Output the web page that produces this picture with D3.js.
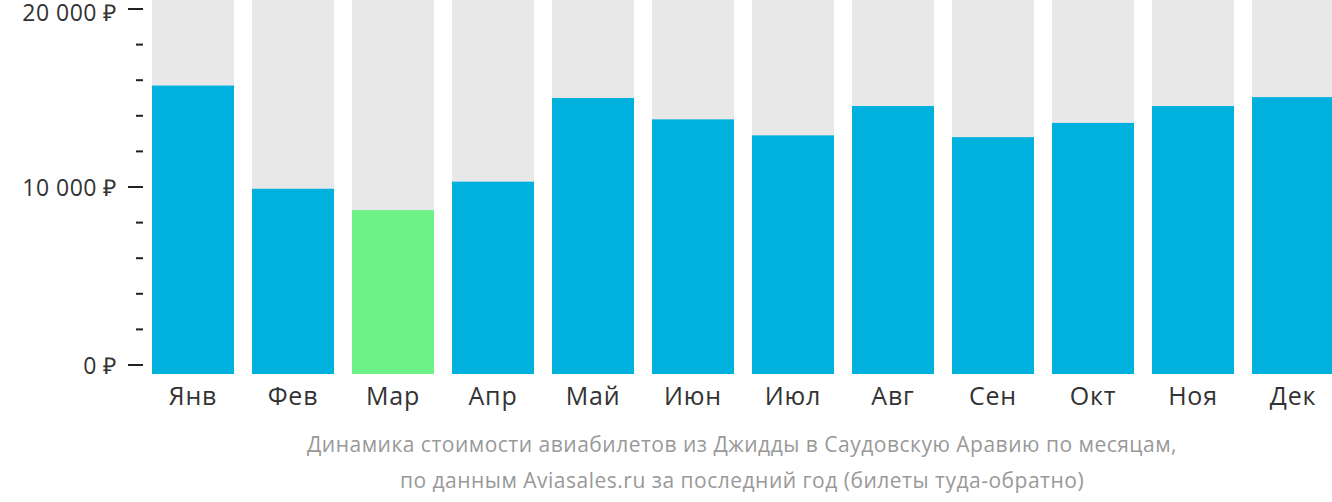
<!DOCTYPE html>
<html><head><meta charset="utf-8">
<script src="https://cdn.jsdelivr.net/npm/d3@7"></script>
<style>
body{margin:0;background:#fff;}
svg{display:block;font-family:"Open Sans",sans-serif;}
</style></head>
<body><svg id="c" width="1332" height="502"></svg>
<script>
const months = ["Янв","Фев","Мар","Апр","Май","Июн","Июл","Авг","Сен","Окт","Ноя","Дек"];
const prices = [15700, 9900, 8700, 10300, 15000, 13800, 12900, 14550, 12800, 13600, 14550, 15050];
const minIndex = 2;
const majorTicks = [0, 10000, 20000];
const minorTicks = [2000, 4000, 6000, 8000, 12000, 14000, 16000, 18000];
const subtitle = ["Динамика стоимости авиабилетов из Джидды в Саудовскую Аравию по месяцам,",
                  "по данным Aviasales.ru за последний год (билеты туда-обратно)"];

const svg = d3.select("#c");
const y = d3.scaleLinear().domain([0, 20000]).range([365, 9]);
const x = d3.scaleBand().domain(months).range([143, 1343]).paddingInner(0.18).paddingOuter(0.09);
const barBottom = 374;

svg.append("g").selectAll("rect").data(months).join("rect")
  .attr("x", d => x(d)).attr("width", x.bandwidth())
  .attr("y", 0).attr("height", barBottom).attr("fill", "#e8e8e8");

svg.append("g").selectAll("rect").data(prices).join("rect")
  .attr("x", (d,i) => x(months[i])).attr("width", x.bandwidth())
  .attr("y", d => y(d)).attr("height", d => barBottom - y(d))
  .attr("fill", (d,i) => i === minIndex ? "#6cf287" : "#00b1dd");

const fmt = v => d3.format(",")(v).replace(/,/g, " ") + " ₽";
const ax = svg.append("g");
ax.selectAll("line.maj").data(majorTicks).join("line")
  .attr("x1", 128).attr("x2", 143).attr("y1", d => y(d)).attr("y2", d => y(d))
  .attr("stroke", "#222").attr("stroke-width", 2);
ax.selectAll("line.min").data(minorTicks).join("line")
  .attr("x1", 136).attr("x2", 143).attr("y1", d => y(d)).attr("y2", d => y(d))
  .attr("stroke", "#222").attr("stroke-width", 2);
ax.selectAll("text").data(majorTicks).join("text")
  .attr("x", 117).attr("y", d => Math.max(y(d) + 1, 13)).attr("dy", "0.35em")
  .attr("text-anchor", "end").attr("font-size", 23).attr("letter-spacing", "0.5px").attr("fill", "#333")
  .text(fmt);

svg.append("g").selectAll("text").data(months).join("text")
  .attr("x", d => x(d) + x.bandwidth()/2).attr("y", 405)
  .attr("text-anchor", "middle").attr("font-size", 25).attr("letter-spacing", "0.8px").attr("fill", "#333")
  .text(d => d);

svg.append("g").selectAll("text").data(subtitle).join("text")
  .attr("x", 742).attr("y", (d,i) => 452 + i*36)
  .attr("text-anchor", "middle").attr("font-size", 21).attr("letter-spacing", "0.5px").attr("fill", "#999")
  .text(d => d);
</script></body></html>
